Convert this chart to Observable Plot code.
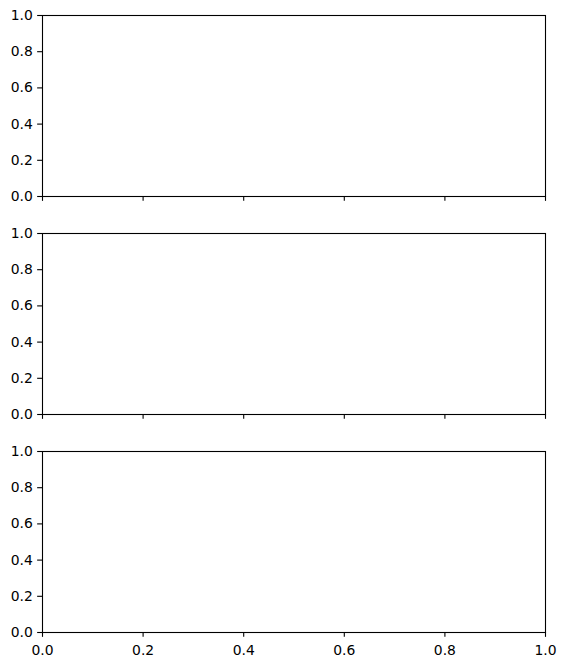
<!DOCTYPE html>
<html>
<head>
<meta charset="utf-8">
<script src="https://cdn.jsdelivr.net/npm/d3@7"></script>
<script src="https://cdn.jsdelivr.net/npm/@observablehq/plot@0.6"></script>
<style>
  html, body { margin: 0; padding: 0; background: #fff; }
  #chart { position: relative; width: 566px; height: 665px; background: #fff; }
  #chart svg { position: absolute; left: 0; display: block; }
</style>
</head>
<body>
<div id="chart"></div>
<script>
// Data: three empty panels sharing the x axis
const panels = ["top", "middle", "bottom"];
const xDomain = [0, 1];
const yDomain = [0, 1];
const xTicks = [0, 0.2, 0.4, 0.6, 0.8, 1.0];
const yTicks = [0, 0.2, 0.4, 0.6, 0.8, 1.0];

const fmt = d3.format(".1f");
const container = document.getElementById("chart");
const tickLen = 4.86;
const lw = 1.1;
const fs = 13.9;

panels.forEach((name, i) => {
  const isBottom = i === panels.length - 1;
  const marginTop = 15;
  const plotH = 181;
  const marginBottom = isBottom ? 33 : 22;
  const svg = Plot.plot({
    width: 566,
    height: marginTop + plotH + marginBottom,
    marginLeft: 42,
    marginRight: 21,
    marginTop,
    marginBottom,
    style: { fontFamily: "DejaVu Sans", fontSize: fs + "px", color: "black", background: "white", overflow: "visible" },
    x: { domain: xDomain, nice: false, label: null },
    y: { domain: yDomain, nice: false, label: null },
    marks: [
      Plot.axisX({
        ticks: xTicks,
        tickSize: tickLen,
        tickPadding: 7.7,
        strokeWidth: lw,
        fontSize: fs,
        tickFormat: isBottom ? fmt : () => "",
        label: null
      }),
      Plot.axisY({
        ticks: yTicks,
        tickSize: tickLen,
        tickPadding: 4.86,
        strokeWidth: lw,
        fontSize: fs,
        tickFormat: fmt,
        label: null
      }),
      Plot.frame({ stroke: "black", strokeWidth: lw })
    ]
  });
  svg.style.top = (i * 218) + "px";
  svg.setAttribute("font-size", fs);
  svg.setAttribute("font-family", "DejaVu Sans");
  container.appendChild(svg);
});
</script>
</body>
</html>
